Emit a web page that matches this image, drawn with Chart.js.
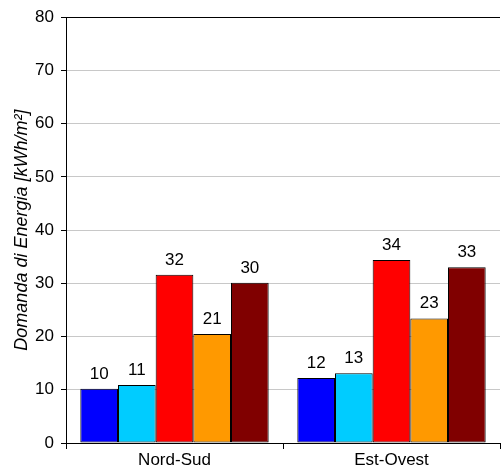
<!DOCTYPE html>
<html>
<head>
<meta charset="utf-8">
<script src="https://cdn.jsdelivr.net/npm/chart.js@4/dist/chart.umd.min.js"></script>
<style>
  html, body { margin: 0; padding: 0; background: #fff; }
  #wrap { width: 501px; height: 471px; }
</style>
</head>
<body>
<div id="wrap"><canvas id="chart" width="501" height="471"></canvas></div>
<script>
const categories = ['Nord-Sud', 'Est-Ovest'];
const seriesNames = ['S1', 'S2', 'S3', 'S4', 'S5'];
const seriesColors = ['#0000ff', '#00ccff', '#ff0000', '#ff9900', '#800000'];
const s1 = [10.2, 12.2];
const s2 = [10.9, 13.1];
const s3 = [31.6, 34.4];
const s4 = [20.5, 23.4];
const s5 = [30.1, 33.0];
const seriesValues = [s1, s2, s3, s4, s5];
const yTicks = [0, 10, 20, 30, 40, 50, 60, 70, 80];

const FONT = 'Arial, "Liberation Sans", sans-serif';

// value labels above each bar
const barLabels = {
    id: 'barLabels',
    afterDatasetsDraw(chart) {
        const ctx = chart.ctx;
        ctx.save();
        ctx.font = '17px ' + FONT;
        ctx.fillStyle = '#000';
        ctx.textAlign = 'center';
        ctx.textBaseline = 'alphabetic';
        chart.data.datasets.forEach((ds, i) => {
            chart.getDatasetMeta(i).data.forEach((bar, j) => {
                ctx.fillText(Math.round(ds.data[j]), bar.x, bar.y - 10);
            });
        });
        ctx.restore();
    }
};

new Chart(document.getElementById('chart'), {
    type: 'bar',
    data: {
        labels: categories,
        datasets: seriesValues.map((vals, i) => ({
            label: seriesNames[i],
            data: vals,
            backgroundColor: seriesColors[i],
            borderColor: '#000',
            borderWidth: 1,
            borderSkipped: false,
            categoryPercentage: 0.868,
            barPercentage: 1
        }))
    },
    options: {
        responsive: false,
        animation: false,
        layout: { padding: { top: 15, right: 1, left: 0, bottom: 0 } },
        plugins: { legend: { display: false }, tooltip: { enabled: false } },
        scales: {
            x: {
                grid: { display: true, drawOnChartArea: false, tickLength: 6, tickColor: '#000', offset: true },
                border: { color: '#000', width: 1 },
                ticks: { color: '#000', font: { family: FONT, size: 17 }, padding: 1 },
                afterFit(scale) { scale.height = 28; }
            },
            y: {
                min: 0,
                max: 80,
                afterBuildTicks(scale) { scale.ticks = yTicks.map(v => ({ value: v })); },
                grid: {
                    color: c => (c.tick && c.tick.value === 80) ? '#000' : '#c8c8c8',
                    tickColor: '#000',
                    tickLength: 5
                },
                border: { color: '#000', width: 1 },
                ticks: { color: '#000', font: { family: FONT, size: 17 }, padding: 7 },
                title: {
                    display: true,
                    text: 'Domanda di Energia [kWh/m²]',
                    color: '#000',
                    font: { family: FONT, size: 18, style: 'italic' },
                    padding: { top: 11, bottom: 0 }
                },
                afterFit(scale) { scale.width = 66; }
            }
        }
    },
    plugins: [barLabels]
});
</script>
</body>
</html>
